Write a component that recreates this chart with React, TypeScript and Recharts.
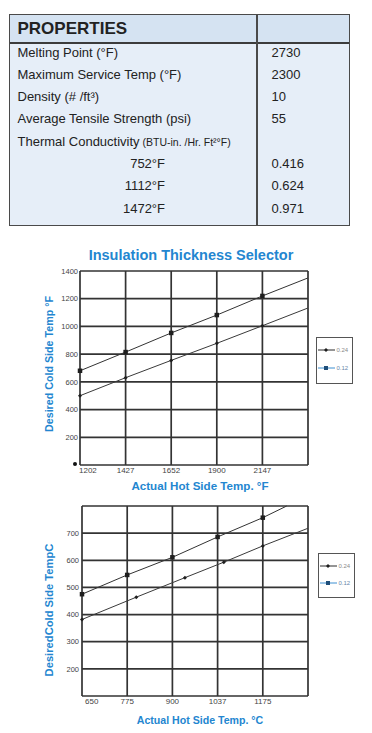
import React from "react";
import { LineChart, Line, XAxis, YAxis, CartesianGrid, Legend } from "recharts";

// ---------- Properties table ----------
const propertyNames = [
  "Melting Point (°F)",
  "Maximum Service Temp (°F)",
  "Density (# /ft³)",
  "Average Tensile Strength (psi)",
  "Thermal Conductivity",
  "752°F",
  "1112°F",
  "1472°F",
];
const propertyUnits = ["", "", "", "", "(BTU-in. /Hr. Ft²°F)", "", "", ""];
const propertyValues = ["2730", "2300", "10", "55", "", "0.416", "0.624", "0.971"];
const propertyIndented = [false, false, false, false, false, true, true, true];

// ---------- Chart 1 (°F) ----------
const hotTicksF = [1202, 1427, 1652, 1900, 2147, 2394]; // last = right edge (unlabeled)
const hotLabelsF = ["1202", "1427", "1652", "1900", "2147", ""];
const coldTicksF = [0, 200, 400, 600, 800, 1000, 1200, 1400];
const hotF = [1202, 1427, 1652, 1900, 2147, 2394];
const cold012F = [680, 815, 953, 1082, 1220, 1350];
const cold024F = [500, 630, 755, 878, 1005, 1133];
const measuredCountF = 5;

// ---------- Chart 2 (°C) ----------
const hotTicksC = [650, 775, 900, 1037, 1175, 1313];
const hotLabelsC = ["650", "775", "900", "1037", "1175", ""];
const coldTicksC = [100, 200, 300, 400, 500, 600, 700, 800];
const hot012C = [650, 775, 900, 1037, 1175, 1248];
const cold012C = [475, 546, 611, 686, 757, 800];
const hot024C = [650, 800, 938, 1056, 1175, 1313];
const cold024C = [382, 464, 536, 593, 653, 718];
const measuredCountC = 5;

const seriesNames = ["0.24", "0.12"];
const legendColors: Record<string, string> = { "0.24": "#2a2a2a", "0.12": "#3d8fd1" };
const legendText: Record<string, string> = { "0.24": "#8a8a8a", "0.12": "#6a86a8" };

const BLUE = "#2386d0";
const FONT = "'Liberation Sans', Arial, sans-serif";
const GRID = "#333";

function toPos(v: number, ticks: number[]) {
  for (let i = 0; i < ticks.length - 1; i++) {
    if (v <= ticks[i + 1]) return i + (v - ticks[i]) / (ticks[i + 1] - ticks[i]);
  }
  return ticks.length - 1;
}

const chart1Data = hotF.map((h, i) => ({
  x: toPos(h, hotTicksF),
  s024: cold024F[i],
  s012: cold012F[i],
  trend: i >= measuredCountF,
}));
const chart2Data012 = hot012C.map((h, i) => ({ x: toPos(h, hotTicksC), y: cold012C[i], trend: i >= measuredCountC }));
const chart2Data024 = hot024C.map((h, i) => ({ x: toPos(h, hotTicksC), y: cold024C[i], trend: i >= measuredCountC }));

const squareDot = (size: number) => (props: any) => {
  const { cx, cy, payload, index } = props;
  if (cx == null || cy == null || (payload && payload.trend)) return <g key={`sq-${index}`} />;
  return <rect key={`sq-${index}`} x={cx - size / 2} y={cy - size / 2} width={size} height={size} fill="#1e1e1e" />;
};
const diamondDot = (size: number) => (props: any) => {
  const { cx, cy, payload, index } = props;
  if (cx == null || cy == null || (payload && payload.trend)) return <g key={`dm-${index}`} />;
  const r = size / 2;
  return (
    <path
      key={`dm-${index}`}
      d={`M${cx},${cy - r} L${cx + r},${cy} L${cx},${cy + r} L${cx - r},${cy} Z`}
      fill="#1e1e1e"
    />
  );
};

const makeXTick = (labels: string[], firstDx: number) => (props: any) => {
  const { x, y, payload, index } = props;
  const i = Math.round(payload.value);
  const label = labels[i] ?? "";
  const first = i === 0;
  return (
    <text
      key={`xt-${index}`}
      x={first ? x + firstDx : x}
      y={y}
      dy="0.71em"
      textAnchor={first ? "start" : "middle"}
      fontSize={8}
      fill="#444"
      fontFamily={FONT}
    >
      {label}
    </text>
  );
};

const LegendBox = (h: number, rows: number[]) => (props: any) => {
  const payload = [...(props.payload || [])].sort(
    (a: any, b: any) => seriesNames.indexOf(String(a.value)) - seriesNames.indexOf(String(b.value))
  );
  return (
    <svg width={37} height={h} style={{ display: "block" }}>
      <rect x={0.5} y={0.5} width={36} height={h - 1} fill="#fff" stroke="#555" strokeWidth={1} />
      {payload.map((p: any, i: number) => {
        const name = String(p.value);
        const yy = rows[i];
        const c = legendColors[name] || "#333";
        return (
          <g key={name}>
            <line x1={2} x2={19} y1={yy} y2={yy} stroke={c} strokeWidth={1} />
            {name === "0.12" ? (
              <rect x={8} y={yy - 2} width={4} height={4} fill="#1f4f7a" />
            ) : (
              <path d={`M10,${yy - 2} L12,${yy} L10,${yy + 2} L8,${yy} Z`} fill="#1e1e1e" />
            )}
            <text x={20.5} y={yy} dy="0.35em" fontSize={6} fill={legendText[name]} fontFamily={FONT}>
              {name}
            </text>
          </g>
        );
      })}
    </svg>
  );
};

const absText = (style: React.CSSProperties): React.CSSProperties => ({
  position: "absolute",
  whiteSpace: "nowrap",
  fontFamily: FONT,
  ...style,
});

export default function App() {
  const rowTop = (i: number) => 53 + i * 22.3 - 15.5 - 11;
  return (
    <div style={{ position: "absolute", left: 0, top: 0, width: 372, height: 733, background: "#fff", fontFamily: FONT, overflow: "hidden" }}>
      {/* Properties table */}
      <div
        style={{
          position: "absolute",
          left: 9,
          top: 14,
          width: 341,
          height: 212,
          boxSizing: "border-box",
          border: "1.5px solid #4a4a4a",
          background: "#e6eef8",
        }}
      >
        <div
          style={{
            position: "absolute",
            left: 0,
            top: 0,
            right: 0,
            height: 29,
            boxSizing: "border-box",
            background: "#d5e3f2",
            borderBottom: "2px solid #3c3c3c",
          }}
        />
        <div style={{ position: "absolute", left: 246, top: 0, bottom: 0, width: 1.5, background: "#4a4a4a" }} />
        <div style={absText({ left: 7.5, top: 2, height: 24, lineHeight: "24px", fontSize: 17, fontWeight: 700, color: "#222" })}>
          PROPERTIES
        </div>
        {propertyNames.map((name, i) => (
          <React.Fragment key={name}>
            {propertyIndented[i] ? (
              <div style={absText({ left: 0, width: 155, textAlign: "right", top: rowTop(i), height: 22, lineHeight: "22px", fontSize: 13, color: "#222" })}>
                {name}
              </div>
            ) : (
              <div style={absText({ left: 7.5, top: rowTop(i), height: 22, lineHeight: "22px", fontSize: 13, color: "#222" })}>
                {name}
                {propertyUnits[i] ? <span style={{ fontSize: 10.5 }}> {propertyUnits[i]}</span> : null}
              </div>
            )}
            <div style={absText({ left: 261.5, top: rowTop(i), height: 22, lineHeight: "22px", fontSize: 13, color: "#222" })}>
              {propertyValues[i]}
            </div>
          </React.Fragment>
        ))}
      </div>

      {/* Chart 1 */}
      <div style={absText({ left: 0, width: 382, textAlign: "center", top: 246, fontSize: 14.5, fontWeight: 700, color: BLUE, lineHeight: "18px" })}>
        Insulation Thickness Selector
      </div>
      <div style={{ position: "absolute", left: 0, top: 240, width: 372, height: 260 }}>
        <LineChart width={372} height={260} data={chart1Data} margin={{ top: 31, right: 64, bottom: 0, left: 0 }}>
          <CartesianGrid stroke={GRID} strokeWidth={1.7} fill="#fff" />
          <XAxis
            dataKey="x"
            type="number"
            domain={[0, 5]}
            ticks={[0, 1, 2, 3, 4, 5]}
            height={35}
            axisLine={false}
            tickLine={false}
            tickSize={0}
            tickMargin={2}
            tick={makeXTick(hotLabelsF, -1)}
            interval={0}
          />
          <YAxis
            type="number"
            domain={[0, 1400]}
            ticks={coldTicksF}
            width={80}
            axisLine={false}
            tickLine={false}
            tickSize={0}
            tickMargin={2}
            interval={0}
            tickFormatter={(v: number) => (v === 0 ? "" : String(v))}
            tick={{ fontSize: 7.5, fill: "#444", fontFamily: FONT }}
          />
          <Legend
            layout="vertical"
            align="center"
            verticalAlign="middle"
            content={LegendBox(47, [13, 31])}
            wrapperStyle={{ left: 316, top: 97, width: 37, height: 47 }}
          />
          <Line
            name={seriesNames[0]}
            dataKey="s024"
            stroke="#3a3a3a"
            strokeWidth={1}
            dot={diamondDot(4)}
            isAnimationActive={false}
          />
          <Line
            name={seriesNames[1]}
            dataKey="s012"
            stroke="#333"
            strokeWidth={1}
            dot={squareDot(4.5)}
            isAnimationActive={false}
          />
        </LineChart>
      </div>
      <div style={{ position: "absolute", left: 73, top: 462, width: 4, height: 4, borderRadius: 2, background: "#111" }} />
      <div style={absText({ left: 49, top: 363.5, transform: "translate(-50%, -50%) rotate(-90deg)", fontSize: 10.7, fontWeight: 700, color: BLUE })}>
        Desired Cold Side Temp °F
      </div>
      <div style={absText({ left: 0, width: 400, textAlign: "center", top: 478, fontSize: 11.6, fontWeight: 700, color: BLUE, lineHeight: "16px" })}>
        Actual Hot Side Temp. °F
      </div>

      {/* Chart 2 */}
      <div style={{ position: "absolute", left: 0, top: 495, width: 372, height: 225 }}>
        <LineChart width={372} height={225} margin={{ top: 11, right: 64, bottom: 0, left: 0 }}>
          <CartesianGrid stroke={GRID} strokeWidth={1.7} fill="#fff" />
          <XAxis
            dataKey="x"
            type="number"
            domain={[0, 5]}
            ticks={[0, 1, 2, 3, 4, 5]}
            height={24}
            axisLine={false}
            tickLine={false}
            tickSize={0}
            tickMargin={2}
            tick={makeXTick(hotLabelsC, 3)}
            interval={0}
            allowDuplicatedCategory={false}
          />
          <YAxis
            type="number"
            domain={[100, 800]}
            ticks={coldTicksC}
            width={82}
            axisLine={false}
            tickLine={false}
            tickSize={0}
            tickMargin={3}
            interval={0}
            tickFormatter={(v: number) => (v === 100 || v === 800 ? "" : String(v))}
            tick={{ fontSize: 7.5, fill: "#444", fontFamily: FONT }}
          />
          <Legend
            layout="vertical"
            align="center"
            verticalAlign="middle"
            content={LegendBox(45, [13, 30])}
            wrapperStyle={{ left: 318, top: 58, width: 37, height: 45 }}
          />
          <Line
            name={seriesNames[0]}
            data={chart2Data024}
            dataKey="y"
            stroke="#3a3a3a"
            strokeWidth={1}
            dot={diamondDot(4)}
            isAnimationActive={false}
          />
          <Line
            name={seriesNames[1]}
            data={chart2Data012}
            dataKey="y"
            stroke="#333"
            strokeWidth={1}
            dot={squareDot(4.5)}
            isAnimationActive={false}
          />
        </LineChart>
      </div>
      <div style={absText({ left: 49, top: 610, transform: "translate(-50%, -50%) rotate(-90deg)", fontSize: 11.2, fontWeight: 700, color: BLUE })}>
        DesiredCold Side TempC
      </div>
      <div style={absText({ left: 0, width: 400, textAlign: "center", top: 712, fontSize: 10.6, fontWeight: 700, color: BLUE, lineHeight: "16px" })}>
        Actual Hot Side Temp. °C
      </div>
    </div>
  );
}
